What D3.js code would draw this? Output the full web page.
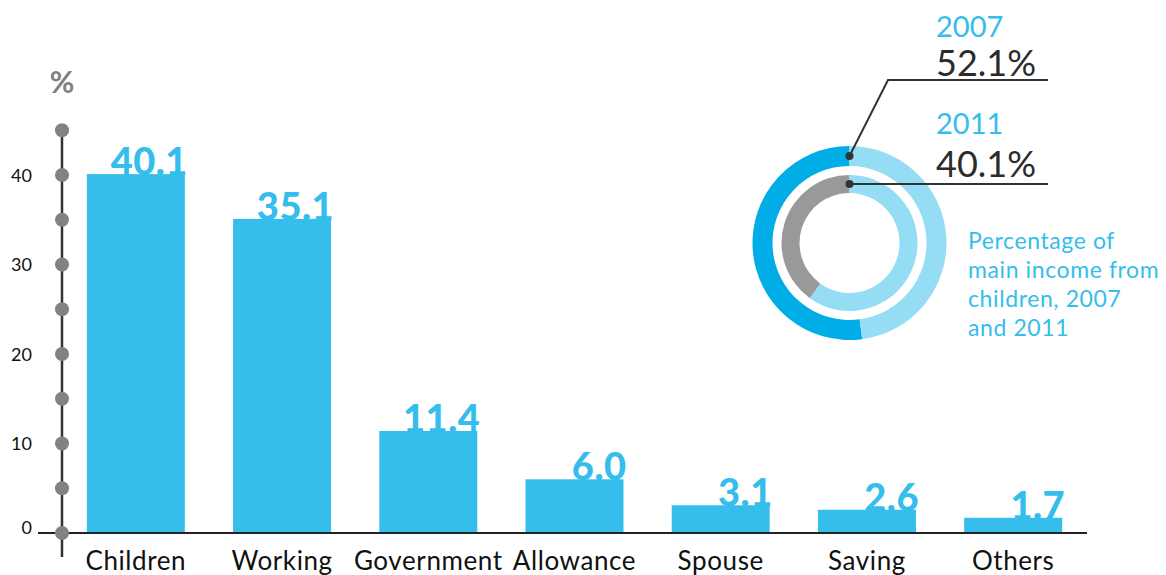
<!DOCTYPE html>
<html>
<head>
<meta charset="utf-8">
<script src="https://cdn.jsdelivr.net/npm/d3@7"></script>
<style>
  body { margin: 0; background: #fff; }
  svg { display: block; font-family: Lato, "Noto Sans", sans-serif; }
</style>
</head>
<body>
<svg id="chart" width="1166" height="575"></svg>
<script>
const categories = ["Children", "Working", "Government", "Allowance", "Spouse", "Saving", "Others"];
const values = [40.1, 35.1, 11.4, 6.0, 3.1, 2.6, 1.7];
const tickLabels = [0, 10, 20, 30, 40];
const dotTicks = [0, 5, 10, 15, 20, 25, 30, 35, 40, 45];

const ringYears = ["2007", "2011"];
const ringShares = [52.1, 40.1];
const noteLines = ["Percentage of", "main income from", "children, 2007", "and 2011"];

const blue = "#35bdeb";

const svg = d3.select("#chart");

const x = d3.scaleBand()
    .domain(categories)
    .range([62, 1087])
    .paddingInner(0.33)
    .paddingOuter(0.17);

const y = d3.scaleLinear()
    .domain([0, 45])
    .range([533, 130.25]);

// value labels sit under the bars a little
svg.append("g")
    .selectAll("text")
    .data(values)
    .join("text")
        .attr("x", (d, i) => x(categories[i]) + x.bandwidth() + 3)
        .attr("y", d => y(d) + 1)
        .attr("text-anchor", "end")
        .attr("fill", blue)
        .attr("font-size", 38)
        .attr("font-weight", 900)
        .attr("letter-spacing", 0.5)
        .text(d => d.toFixed(1));

svg.append("g")
    .selectAll("rect")
    .data(values)
    .join("rect")
        .attr("x", (d, i) => x(categories[i]))
        .attr("y", d => y(d))
        .attr("width", x.bandwidth())
        .attr("height", d => y(0) - y(d))
        .attr("fill", blue);

// baseline
svg.append("line")
    .attr("x1", 38).attr("x2", 1087)
    .attr("y1", y(0)).attr("y2", y(0))
    .attr("stroke", "#222").attr("stroke-width", 2);

// x labels
svg.append("g")
    .attr("transform", `translate(0, ${y(0)})`)
    .call(d3.axisBottom(x).tickSize(0).tickPadding(0))
    .call(g => g.select(".domain").remove())
    .call(g => g.selectAll("text")
        .attr("dy", null)
        .attr("y", 37)
        .attr("font-family", "Lato, sans-serif")
        .attr("font-size", 26)
        .attr("letter-spacing", 0.6)
        .attr("fill", "#111"));

// y axis: stalk with dots
svg.append("line")
    .attr("x1", 62).attr("x2", 62)
    .attr("y1", y(45)).attr("y2", 557)
    .attr("stroke", "#333").attr("stroke-width", 2.5);

svg.append("g")
    .selectAll("circle")
    .data(dotTicks)
    .join("circle")
        .attr("cx", 62)
        .attr("cy", d => y(d))
        .attr("r", 7)
        .attr("fill", "#828282");

svg.append("g")
    .attr("transform", "translate(62, 0)")
    .call(d3.axisLeft(y).tickValues(tickLabels).tickSize(0).tickPadding(30).tickFormat(d3.format("d")))
    .call(g => g.select(".domain").remove())
    .call(g => g.selectAll("text")
        .attr("font-family", "Lato, sans-serif")
        .attr("font-size", 18)
        .attr("fill", "#111")
        .attr("dy", d => d === 0 ? "0.05em" : "0.35em"));

svg.append("text")
    .attr("x", 62).attr("y", 93)
    .attr("text-anchor", "middle")
    .attr("font-size", 30)
    .attr("font-weight", 700)
    .attr("fill", "#808080")
    .text("%");

// rings
const cx = 849.5, cy = 243;
const ringRadii = [[77, 97], [50, 68]];
const ringFront = ["#00ade6", "#999999"];
const ringBack = "#95dcf5";

const ring = svg.append("g").attr("transform", `translate(${cx}, ${cy})`);

ringShares.forEach((share, i) => {
    const arc = d3.arc().innerRadius(ringRadii[i][0]).outerRadius(ringRadii[i][1]);
    const a = -2 * Math.PI * share / 100;
    ring.append("path")
        .attr("d", arc({startAngle: a, endAngle: 0}))
        .attr("fill", ringFront[i]);
    ring.append("path")
        .attr("d", arc({startAngle: 0, endAngle: 2 * Math.PI + a}))
        .attr("fill", ringBack);
});

// leader lines
const lineEnd = 1048;
const dotY = ringRadii.map(r => cy - (r[0] + r[1]) / 2);
const leaderPaths = [
    [[cx, dotY[0]], [888, 80], [lineEnd, 80]],
    [[cx, dotY[1]], [lineEnd, dotY[1]]]
];
leaderPaths.forEach(p => {
    svg.append("path")
        .attr("d", d3.line()(p))
        .attr("fill", "none")
        .attr("stroke", "#333")
        .attr("stroke-width", 2);
    svg.append("circle")
        .attr("cx", p[0][0]).attr("cy", p[0][1])
        .attr("r", 4).attr("fill", "#333");
});

const yearY = [37, 134];
const pctY = [76, 177];
ringYears.forEach((yr, i) => {
    svg.append("text")
        .attr("x", 936).attr("y", yearY[i])
        .attr("font-size", 29)
        .attr("fill", blue)
        .text(yr);
    svg.append("text")
        .attr("x", 936).attr("y", pctY[i])
        .attr("font-size", 36)
        .attr("fill", "#2b2b2b")
        .text(ringShares[i].toFixed(1) + "%");
});

svg.append("text")
    .attr("x", 968)
    .attr("font-size", 23)
    .attr("letter-spacing", 0.6)
    .attr("fill", blue)
    .selectAll("tspan")
    .data(noteLines)
    .join("tspan")
        .attr("x", 968)
        .attr("y", (d, i) => 249 + i * 29)
        .text(d => d);
</script>
</body>
</html>
